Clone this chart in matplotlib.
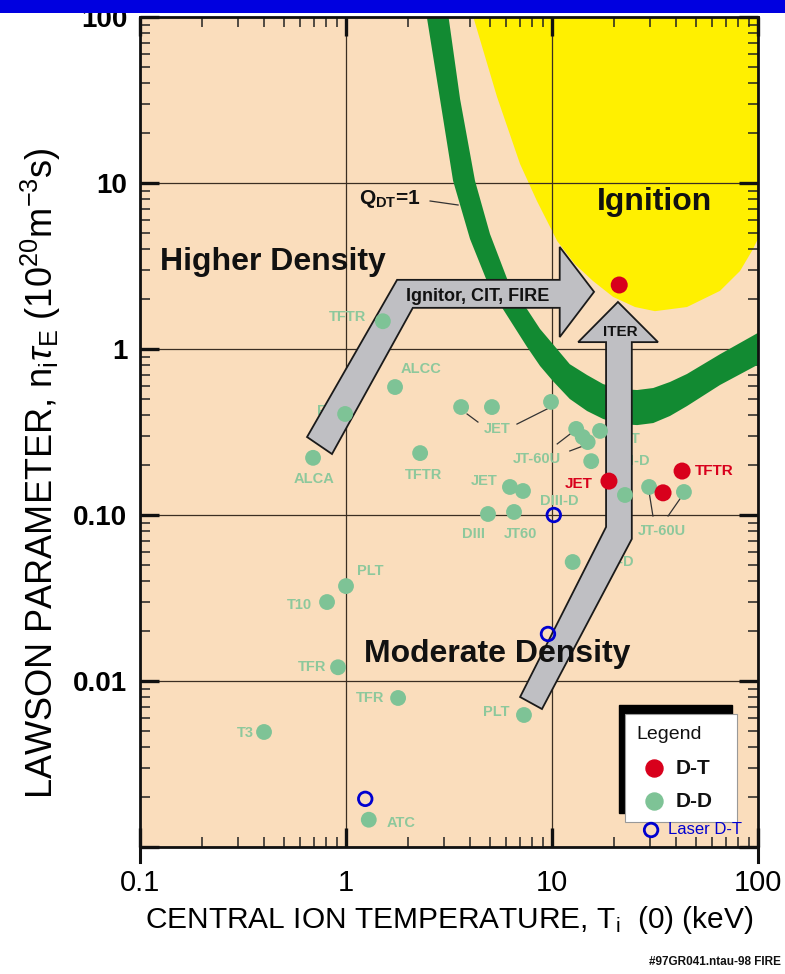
import matplotlib
matplotlib.use('Agg')
import matplotlib.pyplot as plt
from matplotlib.patches import Polygon, Rectangle
from matplotlib.lines import Line2D
from matplotlib.ticker import FixedLocator, FixedFormatter, LogLocator, NullFormatter

plt.rcParams['font.family'] = ['Liberation Sans', 'DejaVu Sans']
plt.rcParams['mathtext.fontset'] = 'custom'
plt.rcParams['mathtext.rm'] = 'Liberation Sans'
plt.rcParams['mathtext.it'] = 'Liberation Sans:italic'
plt.rcParams['mathtext.bf'] = 'Liberation Sans:bold'

# ---------------- data ----------------
# D-D experiments (green dots)
dd_x = [1.51, 1.73, 0.99, 0.692, 2.29, 3.62, 5.11, 9.89, 13.1, 14.1, 14.9, 17.1, 15.5,
        6.25, 7.23, 4.89, 6.54, 22.6, 29.6, 43.7, 12.6, 1.0, 0.809, 0.915, 1.79, 7.31,
        0.400, 1.29]
dd_y = [1.47, 0.590, 0.406, 0.221, 0.236, 0.447, 0.447, 0.480, 0.330, 0.295, 0.275, 0.321,
        0.211, 0.1475, 0.1395, 0.1014, 0.1043, 0.132, 0.1475, 0.1376, 0.0521, 0.0373,
        0.0299, 0.0121, 0.0079, 0.00624, 0.00493, 0.00146]
# D-T experiments (red dots)
dt_x = [21.2, 18.9, 42.8, 34.6]
dt_y = [2.43, 0.160, 0.184, 0.136]
# Laser D-T (blue open circles)
laser_x = [10.2, 9.56, 1.24]
laser_y = [0.100, 0.0192, 0.00195]

# labels of D-D machines (visible)
dd_label_text = ['TFTR', 'ALCC', 'ALCA', 'TFTR', 'JET', 'JT-60U', 'JET', 'DIII-D', 'DIII',
                 'JT60', 'JT-60U', 'PLT', 'T10', 'TFR', 'TFR', 'PLT', 'T3', 'ATC']
dd_label_x = [1.02, 2.31, 0.699, 2.39, 5.41, 8.45, 4.68, 10.8, 4.18,
              7.07, 34.2, 1.31, 0.591, 0.684, 1.31, 5.35, 0.323, 1.85]
dd_label_y = [1.56, 0.758, 0.165, 0.174, 0.330, 0.217, 0.160, 0.121, 0.0768,
              0.0768, 0.0801, 0.046, 0.0287, 0.01214, 0.0079, 0.0065, 0.00486, 0.0014]
# labels partly hidden behind the arrows
hidden_label_text = ['FT', 'JET', 'DIII-D', 'DIII-D']
hidden_label_x = [0.80, 23.1, 23.9, 20.0]
hidden_label_y = [0.423, 0.287, 0.211, 0.0521]
# labels of D-T machines
dt_label_text = ['JET', 'TFTR']
dt_label_x = [13.5, 61.1]
dt_label_y = [0.154, 0.184]

# leader lines (x0, y0, x1, y1)
leader_lines = [(3.87, 0.406, 4.37, 0.363), (6.76, 0.353, 9.46, 0.435),
                (10.6, 0.268, 12.6, 0.316), (12.2, 0.243, 14.1, 0.260),
                (30.9, 0.0986, 29.6, 0.1376), (36.6, 0.0986, 41.8, 0.125),
                (2.56, 7.79, 3.50, 7.37)]

# Q_DT = 1 band edges
q1_outer_x = [2.39, 2.86, 3.31, 4.0, 4.83, 5.78, 7.56, 8.75, 10.1, 12.2, 14.8, 17.7, 21.4,
              25.9, 31.0, 37.4, 45.2, 65.4, 108]
q1_outer_y = [128, 32, 10.3, 4.6, 2.57, 1.74, 1.03, 0.79, 0.641, 0.50, 0.423, 0.379, 0.353,
              0.348, 0.358, 0.395, 0.453, 0.607, 0.847]
q1_inner_x = [3.06, 3.58, 4.23, 5.0, 6.11, 7.56, 8.75, 10.1, 12.2, 14.8, 17.7, 21.4, 25.9,
              31.0, 37.4, 45.2, 65.4, 108]
q1_inner_y = [128, 32, 10.3, 4.93, 2.57, 1.74, 1.32, 1.07, 0.81, 0.697, 0.615, 0.574, 0.566,
              0.582, 0.633, 0.707, 0.93, 1.32]

# Ignition region boundary
ign_x = [3.91, 5.41, 7.0, 8.45, 10.6, 12.9, 15.8, 19.8, 25.3, 31.6, 45.2, 65.4, 81.8, 94.6, 108]
ign_y = [128, 33, 13.0, 7.79, 4.47, 3.25, 2.57, 2.06, 1.79, 1.69, 1.79, 2.24, 2.95, 4.0, 5.66]

# arrows (polygon outlines)
ignitor_x = [0.647, 1.77, 10.9, 10.9, 16.0, 10.9, 10.9, 2.11, 0.855]
ignitor_y = [0.295, 2.61, 2.61, 4.12, 2.21, 1.18, 1.77, 1.77, 0.233]
iter_x = [20.9, 32.7, 24.4, 24.4, 8.94, 7.0, 18.3, 18.3, 13.4]
iter_y = [1.92, 1.10, 1.10, 0.0717, 0.00678, 0.00801, 0.0847, 1.10, 1.10]

x_ticks = [0.1, 1, 10, 100]
x_tick_labels = ['0.1', '1', '10', '100']
y_ticks = [0.001, 0.01, 0.1, 1, 10, 100]
y_tick_labels = ['', '0.01', '0.10', '1', '10', '100']

# ---------------- styles ----------------
PEACH = '#FADDBC'
YELLOW = '#FFF000'
GREEN_BAND = '#128A32'
DD_COL = '#7EC396'
DD_LAB = '#8DC89C'
DT_COL = '#D8001C'
BLUE = '#0000D0'
GRAY = '#BFBFC3'

fig = plt.figure(figsize=(7.85, 9.74), dpi=100)
ax = fig.add_axes([140 / 785, 1 - 847 / 974, 618 / 785, 830 / 974])
ax.set_facecolor(PEACH)
ax.set_xscale('log')
ax.set_yscale('log')
ax.set_xlim(0.1, 100)
ax.set_ylim(0.001, 100)

# ignition region
ign_poly = list(zip(ign_x, ign_y)) + [(108, 128)]
ax.add_patch(Polygon(ign_poly, closed=True, facecolor=YELLOW, edgecolor='none', zorder=1))

# grid
ax.set_axisbelow('line')
ax.xaxis.set_major_locator(FixedLocator(x_ticks))
ax.xaxis.set_major_formatter(FixedFormatter(x_tick_labels))
ax.yaxis.set_major_locator(FixedLocator(y_ticks))
ax.yaxis.set_major_formatter(FixedFormatter(y_tick_labels))
ax.xaxis.set_minor_locator(LogLocator(base=10, subs=range(2, 10)))
ax.yaxis.set_minor_locator(LogLocator(base=10, subs=range(2, 10)))
ax.xaxis.set_minor_formatter(NullFormatter())
ax.yaxis.set_minor_formatter(NullFormatter())
ax.grid(True, which='major', color='#3a2e22', linewidth=0.9)

# Q = 1 band
band = list(zip(q1_outer_x, q1_outer_y)) + list(zip(q1_inner_x, q1_inner_y))[::-1]
ax.add_patch(Polygon(band, closed=True, facecolor=GREEN_BAND, edgecolor='none', zorder=2))

# labels (under the arrows)
for t, x, y in zip(dd_label_text, dd_label_x, dd_label_y):
    ax.text(x, y, t, color=DD_LAB, fontsize=10.5, fontweight='bold', ha='center', va='center', zorder=2.6)
for t, x, y in zip(hidden_label_text, hidden_label_x, hidden_label_y):
    ax.text(x, y, t, color=DD_LAB, fontsize=10.5, fontweight='bold', ha='center', va='center', zorder=2.6)
for t, x, y in zip(dt_label_text, dt_label_x, dt_label_y):
    ax.text(x, y, t, color=DT_COL, fontsize=11, fontweight='bold', ha='center', va='center', zorder=2.6)

for (x0, y0, x1, y1) in leader_lines:
    ax.plot([x0, x1], [y0, y1], color='#333333', linewidth=0.9, zorder=2.6)

# arrows
ax.add_patch(Polygon(list(zip(ignitor_x, ignitor_y)), closed=True, facecolor=GRAY,
                     edgecolor='#1a1a1a', linewidth=1.3, joinstyle='miter', zorder=3))
ax.add_patch(Polygon(list(zip(iter_x, iter_y)), closed=True, facecolor=GRAY,
                     edgecolor='#1a1a1a', linewidth=1.3, joinstyle='miter', zorder=3))
ax.text(4.37, 2.08, 'Ignitor, CIT, FIRE', fontsize=13, fontweight='bold', color='#111111',
        ha='center', va='center', zorder=3.5)
ax.text(21.4, 1.27, 'ITER', fontsize=11, fontweight='bold', color='#111111',
        ha='center', va='center', zorder=3.5)

# points
ax.scatter(dd_x, dd_y, s=130, color=DD_COL, edgecolors='none', zorder=4)
ax.scatter(dt_x, dt_y, s=150, color=DT_COL, edgecolors='none', zorder=4.5)
ax.scatter(laser_x, laser_y, s=95, facecolors='none', edgecolors=BLUE, linewidths=2.0, zorder=4.5)

# big annotations
ax.text(31.6, 7.69, 'Ignition', fontsize=23, fontweight='bold', color='#111111',
        ha='center', va='center', zorder=5)
ax.text(0.442, 3.34, 'Higher Density', fontsize=23, fontweight='bold', color='#111111',
        ha='center', va='center', zorder=5)
ax.text(5.41, 0.01455, 'Moderate Density', fontsize=23, fontweight='bold', color='#111111',
        ha='center', va='center', zorder=5)
ax.text(1.15, 8.0, r'Q$_{\mathbf{DT}}$=1', fontsize=15, fontweight='bold', color='#111111',
        ha='left', va='center', zorder=5)

# axes styling
for side in ['left', 'bottom', 'top', 'right']:
    ax.spines[side].set_linewidth(2.0)
    ax.spines[side].set_color('#111111')
    ax.spines[side].set_zorder(6)
ax.tick_params(which='major', direction='in', length=14, width=2.4, top=True, right=True,
               color='#111111')
ax.tick_params(which='minor', direction='in', length=7, width=1.1, top=True, right=True,
               color='#222222')
ax.tick_params(axis='x', which='major', pad=16, labelsize=21)
ax.tick_params(axis='y', which='major', pad=9, labelsize=20)
for lab in ax.get_yticklabels():
    lab.set_fontweight('bold')

ax.set_xlabel(r'CENTRAL ION TEMPERATURE, T$_{\mathrm{i}}$  (0) (keV)', fontsize=21.5, labelpad=5)
ax.set_ylabel(r'LAWSON PARAMETER, n$_{\mathrm{i}}\tau_{\mathrm{E}}$ (10$^{20}$m$^{-3}$s)',
              fontsize=26)
ax.yaxis.set_label_coords(-0.125, 0.45)

# little spine extensions at the bottom corners
for xa in (0.0, 1.0):
    ax.add_line(Line2D([xa, xa], [0, -0.018], transform=ax.transAxes, color='#111111',
                       linewidth=2.2, clip_on=False, zorder=6))

# legend box
ax.add_patch(Rectangle((0.775, 0.041), 0.183, 0.130, transform=ax.transAxes,
                       facecolor='black', edgecolor='black', zorder=7))
ax.add_patch(Rectangle((0.785, 0.030), 0.181, 0.130, transform=ax.transAxes,
                       facecolor='white', edgecolor='#999999', linewidth=0.8, zorder=7.1))
ax.text(0.803, 0.136, 'Legend', transform=ax.transAxes, fontsize=14, color='#111111',
        ha='left', va='center', zorder=8)
ax.scatter([0.832], [0.095], s=150, color=DT_COL, transform=ax.transAxes, zorder=8, clip_on=False)
ax.text(0.866, 0.095, 'D-T', transform=ax.transAxes, fontsize=15, fontweight='bold',
        color='#111111', ha='left', va='center', zorder=8)
ax.scatter([0.832], [0.0554], s=150, color=DD_COL, transform=ax.transAxes, zorder=8, clip_on=False)
ax.text(0.866, 0.0554, 'D-D', transform=ax.transAxes, fontsize=15, fontweight='bold',
        color='#111111', ha='left', va='center', zorder=8)
ax.scatter([0.827], [0.0205], s=95, facecolors='none', edgecolors=BLUE, linewidths=2.0,
           transform=ax.transAxes, zorder=8, clip_on=False)
ax.text(0.855, 0.0205, 'Laser D-T', transform=ax.transAxes, fontsize=12, color=BLUE,
        ha='left', va='center', zorder=8)

# credit
fig.text(0.995, 1 - 962 / 974, '#97GR041.ntau-98 FIRE', fontsize=8.5, fontweight='bold',
         color='#111111', ha='right', va='center')

# blue header band
fig.patches.append(Rectangle((0, 1 - 13 / 974), 1, 13 / 974, transform=fig.transFigure,
                             facecolor='#0000E0', edgecolor='none', zorder=20))

fig.savefig('out.png', dpi=100)
